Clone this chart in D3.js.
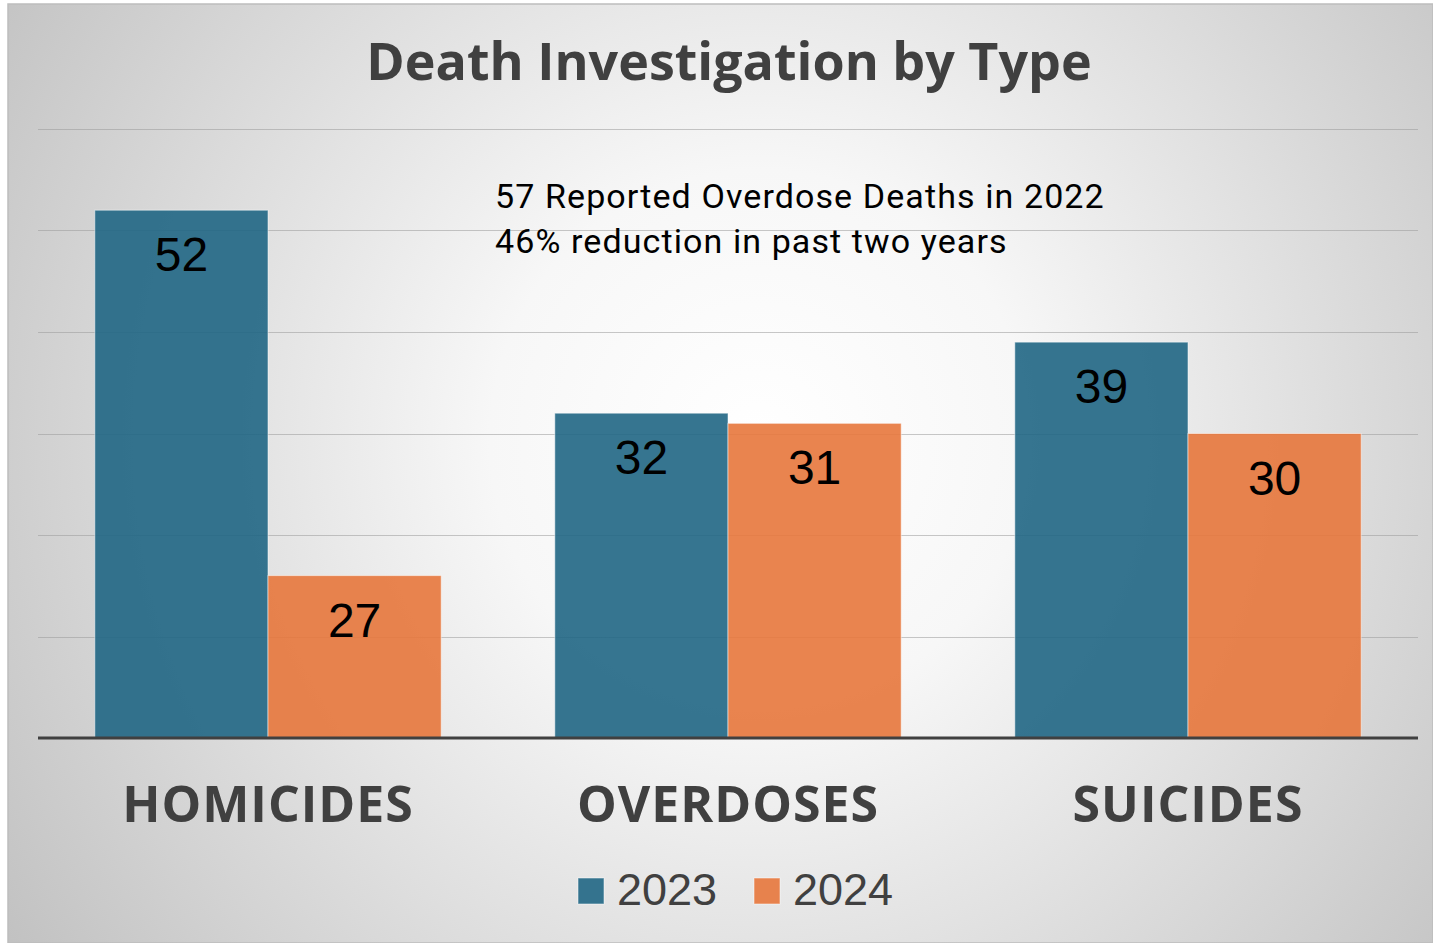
<!DOCTYPE html>
<html>
<head>
<meta charset="utf-8">
<script src="https://cdn.jsdelivr.net/npm/d3@7"></script>
<style>
  body { margin: 0; background: #ffffff; }
  svg { display: block; }
</style>
</head>
<body>
<div id="chart"></div>
<script>
		// data
		var categories = ['HOMICIDES', 'OVERDOSES', 'SUICIDES'];
		var years = ['2023', '2024'];
		// bar heights as drawn in the picture
		var values2023 = [52, 32, 39];
		var values2024 = [16, 31, 30];
		// data labels as printed on the bars
		var labels2023 = ['52', '32', '39'];
		var labels2024 = ['27', '31', '30'];
		var yTicks = [0, 10, 20, 30, 40, 50, 60];
		var noteLines = ['57 Reported Overdose Deaths in 2022', '46% reduction in past two years'];

		var width = 1433,
			height = 943;

		var colorYear = d3.scaleOrdinal()
						.domain(years)
						.range(['#206684', '#e7773c']);

		var svg = d3.select('#chart')
			.append('svg')
			  .attr('width', width)
			  .attr('height', height);

		// background gradient
		var defs = svg.append('defs');
		var grad = defs.append('radialGradient')
			.attr('id', 'bg')
			.attr('gradientUnits', 'userSpaceOnUse')
			.attr('cx', 760).attr('cy', 440).attr('r', 900);
		grad.append('stop').attr('offset', '0%').attr('stop-color', '#ffffff');
		grad.append('stop').attr('offset', '30%').attr('stop-color', '#f7f7f7');
		grad.append('stop').attr('offset', '100%').attr('stop-color', '#c2c2c2');

		svg.append('rect')
			.attr('x', 8).attr('y', 4)
			.attr('width', width - 8).attr('height', height - 4)
			.style('fill', 'url(#bg)')
			.style('stroke', '#bdbdbd')
			.style('stroke-width', 1.5);

		// scales
		var x0 = d3.scaleBand()
					.domain(categories)
					.range([38, 1418])
					.paddingInner(0.247)
					.paddingOuter(0.1235);

		var x1 = d3.scaleBand()
					.domain(years)
					.range([0, x0.bandwidth()]);

		var y = d3.scaleLinear()
					.domain([0, 60])
					.range([738, 129]);

		// gridlines
		svg.selectAll('.grid')
			.data(yTicks.filter(function(d){ return d > 0; }))
			.enter()
			.append('line')
			.attr('class', 'grid')
			.attr('x1', 38).attr('x2', 1418)
			.attr('y1', function(d){ return Math.round(y(d)) + 0.5; })
			.attr('y2', function(d){ return Math.round(y(d)) + 0.5; })
			.style('stroke', '#9a9a9a')
			.style('stroke-opacity', 0.55)
			.style('stroke-width', 1.2);

		var rows = [];
		categories.forEach(function(c, i){
			rows.push({cat: c, year: '2023', value: values2023[i], label: labels2023[i]});
			rows.push({cat: c, year: '2024', value: values2024[i], label: labels2024[i]});
		});

		svg.selectAll('.bar')
			.data(rows)
			.enter()
			.append('rect')
			.attr('class', 'bar')
			.attr('x', function(d){ return x0(d.cat) + x1(d.year); })
			.attr('y', function(d){ return y(d.value); })
			.attr('width', x1.bandwidth())
			.attr('height', function(d){ return y(0) - y(d.value); })
			.style('fill', function(d){ return colorYear(d.year); })
			.style('fill-opacity', 0.9)
			.style('stroke', '#ffffff')
			.style('stroke-opacity', 0.5)
			.style('stroke-width', 1);

		svg.selectAll('.bar-label')
			.data(rows)
			.enter()
			.append('text')
			.attr('class', 'bar-label')
			.attr('x', function(d){ return x0(d.cat) + x1(d.year) + x1.bandwidth() / 2; })
			.attr('y', function(d){ return y(d.value) + 61; })
			.attr('text-anchor', 'middle')
			.style('font-family', 'Liberation Sans, Arial, sans-serif')
			.style('font-size', '48px')
			.style('fill', '#000000')
			.text(function(d){ return d.label; });

		// baseline
		svg.append('line')
			.attr('x1', 38).attr('x2', 1418)
			.attr('y1', y(0)).attr('y2', y(0))
			.style('stroke', '#404040')
			.style('stroke-width', 3);

		// category labels
		svg.selectAll('.cat-label')
			.data(categories)
			.enter()
			.append('text')
			.attr('class', 'cat-label')
			.attr('x', function(d){ return x0(d) + x0.bandwidth() / 2; })
			.attr('y', 822)
			.attr('text-anchor', 'middle')
			.style('font-family', 'Open Sans, sans-serif')
			.style('font-weight', 'bold')
			.style('font-size', '50px')
			.style('letter-spacing', '1px')
			.style('fill', '#404040')
			.text(function(d){ return d; });

		// title
		svg.append('text')
			.attr('x', 729)
			.attr('y', 80)
			.attr('text-anchor', 'middle')
			.style('font-family', 'Open Sans, sans-serif')
			.style('font-weight', 'bold')
			.style('font-size', '52px')
			.style('fill', '#404040')
			.text('Death Investigation by Type');

		// note
		svg.selectAll('.note')
			.data(noteLines)
			.enter()
			.append('text')
			.attr('class', 'note')
			.attr('x', 495)
			.attr('y', function(d, i){ return 208 + i * 45; })
			.style('font-family', 'Roboto, sans-serif')
			.style('font-size', '34px')
			.style('letter-spacing', '1.1px')
			.style('fill', '#000000')
			.text(function(d){ return d; });

		// legend
		var legend = svg.append('g').attr('class', 'legend');
		var legendX = [578, 754];

		legend.selectAll('.legend-square')
			.data(years)
			.enter()
			.append('rect')
			.attr('class', 'legend-square')
			.attr('x', function(d, i){ return legendX[i]; })
			.attr('y', 878)
			.attr('width', 26)
			.attr('height', 26)
			.style('fill', function(d){ return colorYear(d); })
			.style('fill-opacity', 0.9)
			.style('stroke', '#ffffff')
			.style('stroke-opacity', 0.5);

		legend.selectAll('.legend-label')
			.data(years)
			.enter()
			.append('text')
			.attr('class', 'legend-label')
			.attr('x', function(d, i){ return legendX[i] + 39; })
			.attr('y', 905)
			.style('font-family', 'Liberation Sans, Arial, sans-serif')
			.style('font-size', '45px')
			.style('fill', '#404040')
			.text(function(d){ return d; });
</script>
</body>
</html>
